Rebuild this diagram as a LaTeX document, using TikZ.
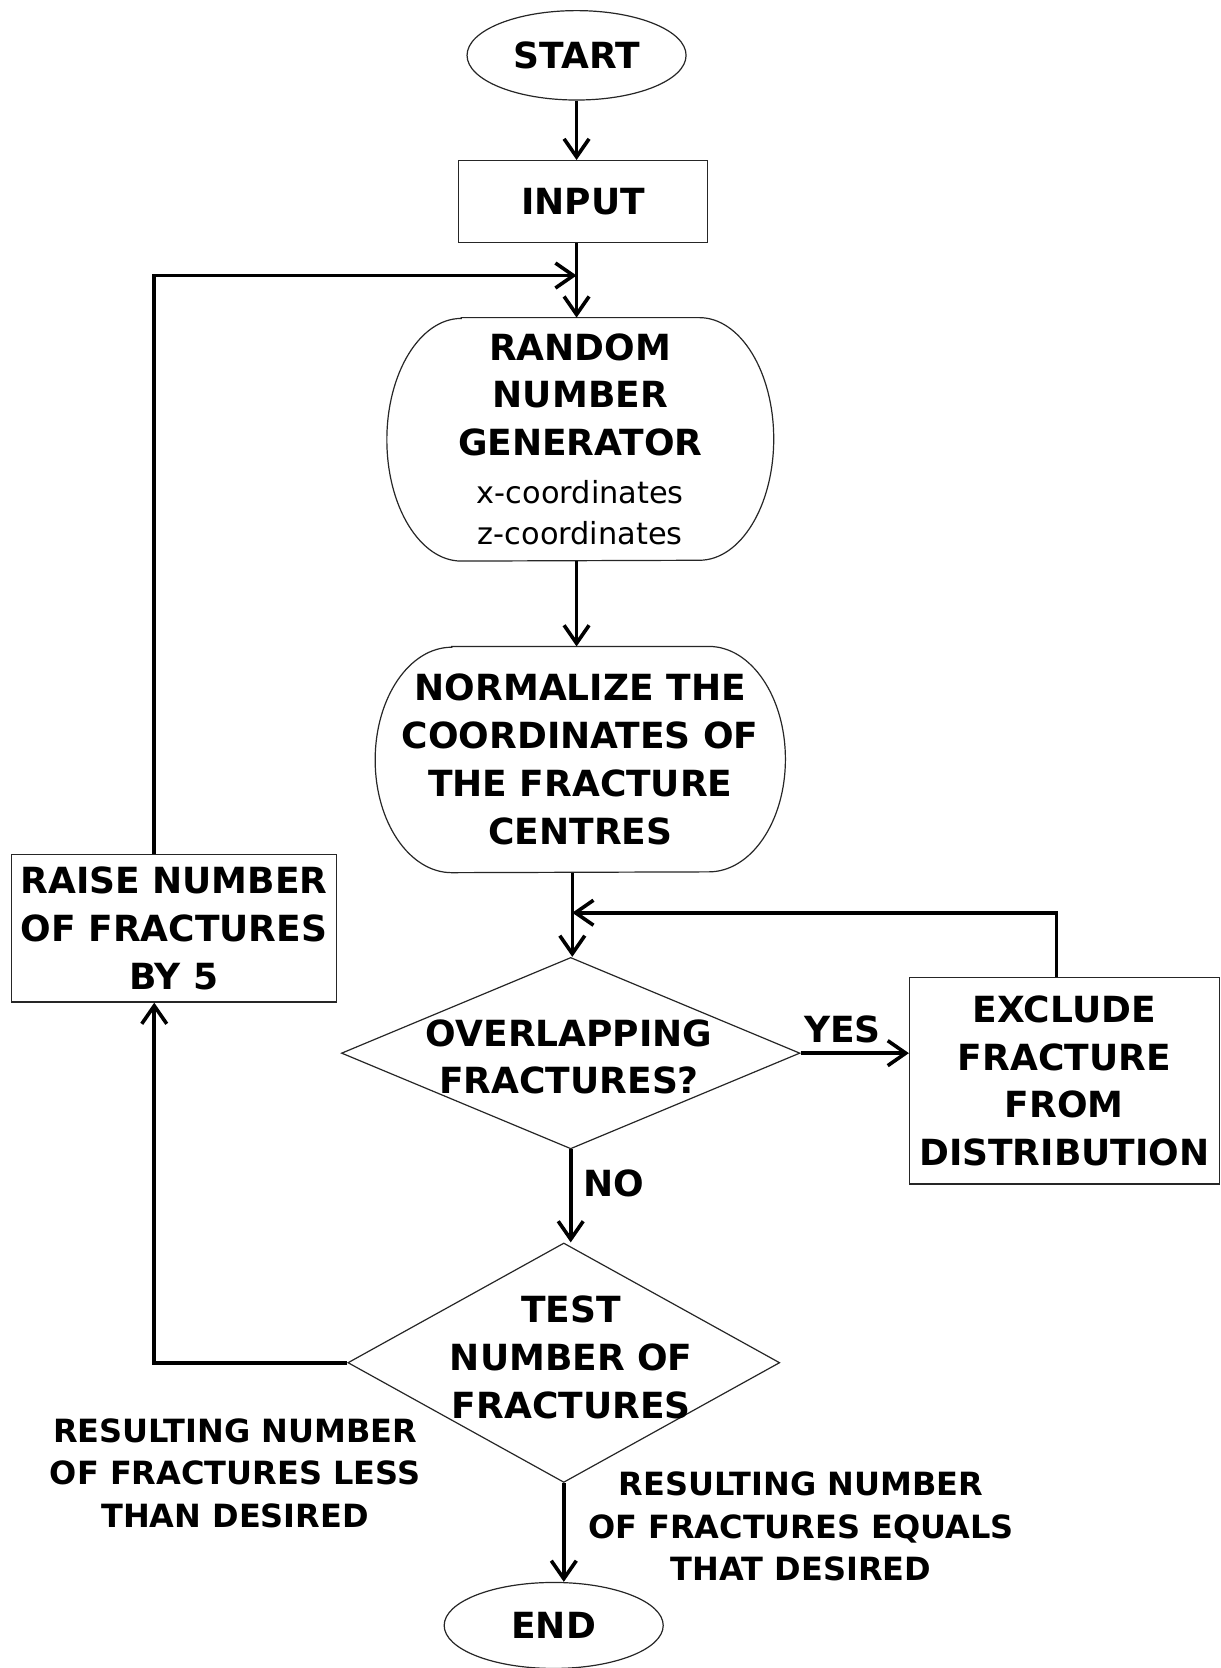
\documentclass[tikz,border=0pt]{standalone}
\usepackage{fontspec}
\setmainfont{DejaVu Sans}
\usetikzlibrary{shapes.geometric,arrows.meta}
\begin{document}
\tikzset{
  shapeline/.style={draw=black!85, line width=0.6pt},
  conn/.style={line width=1.8pt, -{Straight Barb[length=9pt,width=12.5pt]}},
  bigtext/.style={font=\fontsize{18}{23.9}\selectfont\bfseries},
  lbltext/.style={font=\fontsize{16}{21.2}\selectfont\bfseries},
}
\begin{tikzpicture}[x=0.5318pt,y=-0.5318pt]
\fill[white] (0,0) rectangle (1147,1568);
\useasboundingbox (0,0) rectangle (1147,1568);

% nodes
\node[ellipse, shapeline, minimum width=109.5pt, minimum height=44.7pt, inner sep=0, bigtext] (start) at (542,52) {START};
\node[rectangle, shapeline, minimum width=124.4pt, minimum height=41pt, inner sep=0, bigtext] (input) at (548,189.5) {INPUT};
\node[rectangle, minimum width=193pt, minimum height=121.3pt, inner sep=0, bigtext, align=center] (rng) at (545.5,413)
  {RANDOM\\NUMBER\\GENERATOR\\{\mdseries\fontsize{15.2}{20.7}\selectfont x-coordinates}\\[-3.2pt]{\mdseries\fontsize{15.2}{20.7}\selectfont z-coordinates}};
\draw[shapeline] ([xshift=37.2pt]rng.north west) -- ([xshift=-37.2pt]rng.north east)
  arc[start angle=90, end angle=-90, x radius=37.2pt, y radius=60.65pt]
  -- ([xshift=37.2pt]rng.south west)
  arc[start angle=270, end angle=90, x radius=37.2pt, y radius=60.65pt] -- cycle;
\node[rectangle, minimum width=204.7pt, minimum height=112.7pt, inner sep=0, bigtext, align=center] (norm) at (545.5,714)
  {NORMALIZE THE\\COORDINATES OF\\THE FRACTURE\\CENTRES};
\draw[shapeline] ([xshift=38.3pt]norm.north west) -- ([xshift=-38.3pt]norm.north east)
  arc[start angle=90, end angle=-90, x radius=38.3pt, y radius=56.35pt]
  -- ([xshift=38.3pt]norm.south west)
  arc[start angle=270, end angle=90, x radius=38.3pt, y radius=56.35pt] -- cycle;
\node[diamond, shapeline, minimum width=229.2pt, minimum height=95.7pt, inner sep=0] (ovl) at (536.5,990) {};
\node[bigtext, align=center] (ovlt) at (535,993.5) {OVERLAPPING\\FRACTURES?};
\node[rectangle, shapeline, minimum width=154.8pt, minimum height=103.2pt, inner sep=0, bigtext, align=center] (excl) at (1000.5,1016)
  {EXCLUDE\\FRACTURE\\FROM\\DISTRIBUTION};
\node[rectangle, shapeline, minimum width=162.2pt, minimum height=73.9pt, inner sep=0, bigtext, align=center] (raise) at (163.5,872.5)
  {RAISE NUMBER\\OF FRACTURES\\BY 5};
\node[diamond, shapeline, minimum width=215.9pt, minimum height=119.7pt, inner sep=0] (test) at (530,1281) {};
\node[bigtext, align=center] (testt) at (537,1276) {TEST\\NUMBER OF\\FRACTURES};
\node[ellipse, shapeline, minimum width=109.5pt, minimum height=43pt, inner sep=0, bigtext] (end) at (520.5,1528) {END};

% labels
\node[bigtext] (yes) at (792,968) {YES};
\node[bigtext] (no) at (577,1112) {NO};
\node[lbltext, align=center] (less) at (221,1385) {RESULTING NUMBER\\OF FRACTURES LESS\\THAN DESIRED};
\node[lbltext, align=center] (equal) at (753,1435) {RESULTING NUMBER\\OF FRACTURES EQUALS\\THAT DESIRED};

% helper coordinates
\coordinate (lx) at (145,0);
\coordinate (join1) at (542,259);
\coordinate (join2) at (538,858);

% connectors
\draw[conn] (start.south) -- (start.south |- input.north);
\draw[conn] (input.south -| start.south) -- (rng.north -| start.south);
\draw[conn] (rng.south -| start.south) -- (norm.north -| start.south);
\draw[conn] (norm.south -| join2) -- (join2 |- ovl.north);
\draw[conn] (ovl.east) -- (ovl.east -| excl.west);
\draw[conn] ([xshift=-4pt]excl.north) |- (join2);
\draw[conn] (ovl.south) -- (ovl.south |- test.north);
\draw[conn] (test.south) -- (test.south |- end.north);
\draw[conn] (test.west) -- (test.west -| lx) -- (lx |- raise.south);
\draw[conn] (lx |- raise.north) |- (join1);
\end{tikzpicture}
\end{document}
